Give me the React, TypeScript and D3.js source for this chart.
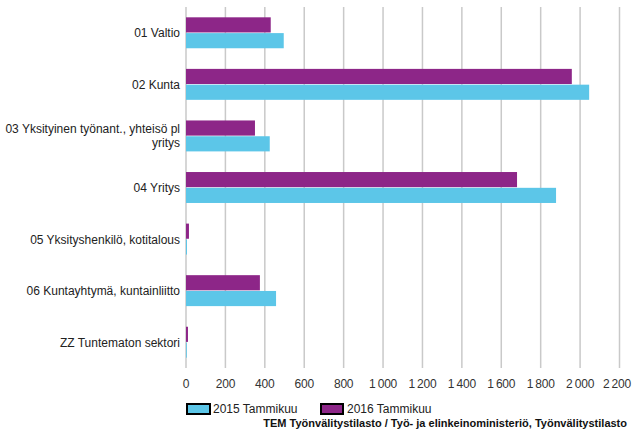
import * as d3 from 'd3';

const categories = [
  '01 Valtio',
  '02 Kunta',
  '03 Yksityinen työnant., yhteisö pl|yritys',
  '04 Yritys',
  '05 Yksityshenkilö, kotitalous',
  '06 Kuntayhtymä, kuntainliitto',
  'ZZ Tuntematon sektori',
];
const values2015 = [496, 2046, 425, 1878, 5, 457, 4];
const values2016 = [430, 1958, 350, 1680, 15, 375, 10];
const ticks = [0, 200, 400, 600, 800, 1000, 1200, 1400, 1600, 1800, 2000, 2200];
const seriesNames = ['2016 Tammikuu', '2015 Tammikuu'];
const sourceText = 'TEM Työnvälitystilasto / Työ- ja elinkeinoministeriö, Työnvälitystilasto';

const W = 632;
const H = 435;
const PURPLE = '#8d2688';
const BLUE = '#5cc6e8';
const FONT = '"Liberation Sans", Arial, sans-serif';

const fmt = (v: number) => d3.format(',')(v).replace(/,/g, '\u2009');

export default function App() {
  const x = d3.scaleLinear().domain([0, 2200]).range([186, 619.5]);
  const y = d3
    .scaleBand<string>()
    .domain(categories)
    .range([7, 368])
    .paddingInner(0.4)
    .paddingOuter(0.2);
  const inner = d3.scaleBand<string>().domain(seriesNames).range([0, y.bandwidth()]).paddingInner(0.04);

  const rows = categories.map((c, i) => ({ c, v15: values2015[i], v16: values2016[i] }));

  return (
    <svg width={W} height={H} style={{ position: 'absolute', left: 0, top: 0, fontFamily: FONT }}>
      <rect width={W} height={H} fill="#fff" />
      {ticks.map((t) => (
        <line key={t} x1={x(t)} x2={x(t)} y1={7} y2={368} stroke="#c9c9c9" strokeWidth={1.5} />
      ))}
      {rows.map((r) => {
        const y0 = y(r.c)!;
        const lines = r.c.split('|');
        const cy = y0 + y.bandwidth() / 2;
        return (
          <g key={r.c}>
            <rect x={x(0)} y={y0 + inner('2016 Tammikuu')!} width={x(r.v16) - x(0)} height={inner.bandwidth()} fill={PURPLE} />
            <rect x={x(0)} y={y0 + inner('2015 Tammikuu')!} width={x(r.v15) - x(0)} height={inner.bandwidth()} fill={BLUE} />
            <text x={180} y={cy - ((lines.length - 1) * 14) / 2 + 4.5} textAnchor="end" fontSize={12} fill="#222">
              {lines.map((l, j) => (
                <tspan key={j} x={180} dy={j === 0 ? 0 : 14}>
                  {l}
                </tspan>
              ))}
            </text>
          </g>
        );
      })}
      {ticks.map((t, i) => {
        const last = i === ticks.length - 1;
        return (
          <text
            key={t}
            x={last ? W - 1 : x(t)}
            y={387.5}
            textAnchor={last ? 'end' : 'middle'}
            fontSize={12}
            letterSpacing={-0.2}
            fill="#333"
          >
            {fmt(t)}
          </text>
        );
      })}
      <g>
        <rect x={187} y={404} width={23} height={10} fill={BLUE} stroke="#000" strokeWidth={2} />
        <text x={213} y={413} fontSize={12} fill="#222">
          2015 Tammikuu
        </text>
        <rect x={321} y={404} width={22} height={10} fill={PURPLE} stroke="#000" strokeWidth={2} />
        <text x={347} y={413} fontSize={12} fill="#222">
          2016 Tammikuu
        </text>
      </g>
      <text x={627} y={427} textAnchor="end" fontSize={11} fontWeight="bold" fill="#111">
        {sourceText}
      </text>
    </svg>
  );
}
